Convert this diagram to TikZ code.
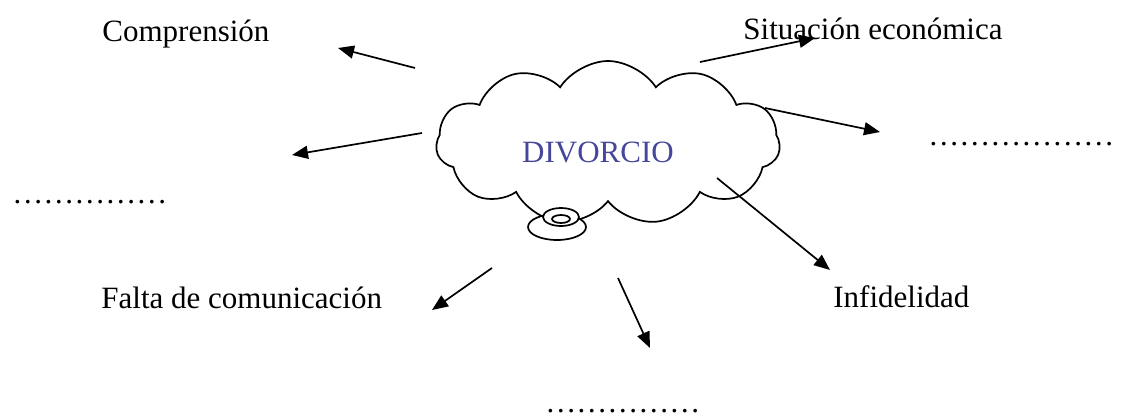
\documentclass[tikz,border=0pt]{standalone}
\usepackage{fontspec}
\setmainfont{Liberation Serif}
\usetikzlibrary{shapes.symbols,arrows.meta}
\definecolor{azuldiv}{RGB}{70,70,155}
\tikzset{
  texto/.style={anchor=base west,inner sep=0pt,font=\fontsize{15.5}{18}\selectfont},
  flecha/.style={line width=0.85pt,-{Triangle[length=8pt,width=6.5pt]}},
  trazo/.style={line width=0.85pt}
}
\begin{document}
\begin{tikzpicture}[x=0.5pt,y=-0.5pt]
\useasboundingbox (0,0) rectangle (1128,417);
\node[cloud,draw,trazo,cloud puffs=11,cloud puff arc=115,aspect=2.1,minimum width=172pt,minimum height=82pt,inner sep=0pt] (nube) at (608,143) {};
\draw[trazo,fill=white] (557,227) ellipse [x radius=29, y radius=13];
\draw[trazo,fill=white] (561,217) ellipse [x radius=18, y radius=9];
\draw[trazo] (561,219) ellipse [x radius=9, y radius=4];
\node[texto,anchor=base,text=azuldiv] (divorcio) at (598,162) {DIVORCIO};

\node[texto] (comp) at (102,42) {Comprensión};
\node[texto] (sit) at (743,40) {Situación económica};
\node[texto] (pun1) at (12,203) {……………};
\node[texto] (pun2) at (928,145) {………………};
\node[texto] (falta) at (101,308) {Falta de comunicación};
\node[texto] (infi) at (833,307) {Infidelidad};
\node[texto] (pun3) at (545,412) {……………};

\coordinate (a1) at (415,68);  \coordinate (b1) at (338,48);
\coordinate (a2) at (422,133); \coordinate (b2) at (292,155);
\coordinate (a3) at (700,62);  \coordinate (b3) at (815,38);
\coordinate (a4) at (765,108); \coordinate (b4) at (880,132);
\coordinate (a5) at (717,178); \coordinate (b5) at (830,270);
\coordinate (a6) at (492,268); \coordinate (b6) at (432,310);
\coordinate (a7) at (618,278); \coordinate (b7) at (650,348);
\foreach \i in {1,...,7}{
  \draw[flecha] (a\i) -- (b\i);}
\end{tikzpicture}
\end{document}
